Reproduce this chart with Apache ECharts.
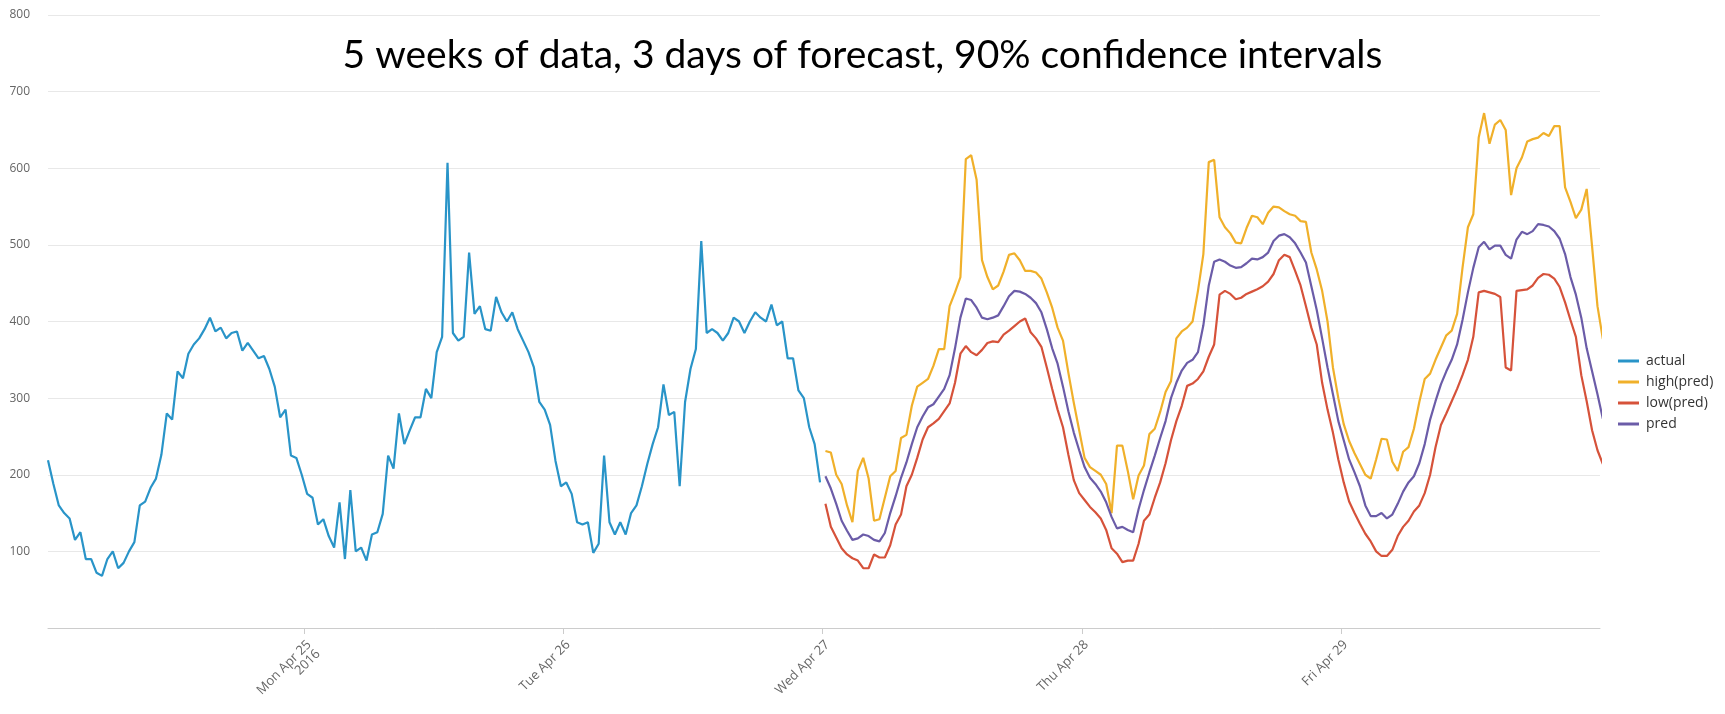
<!DOCTYPE html>
<html>
<head>
<meta charset="utf-8">
<title>forecast</title>
<script type="text/javascript" src="https://cdn.jsdelivr.net/npm/echarts@6.0.0/dist/echarts.min.js"></script>
<style type="text/css">
body {
    margin: 0;
    background: #fff;
}
#main {
    width: 1725px;
    height: 714px;
}
</style>
</head>
<body>
<div id="main"></div>

<script type="text/javascript">
// half-hour steps, actual starts Sun Apr 24 00:15, forecast starts Wed Apr 27 00:15
var stepMs = 30 * 60 * 1000;
var actualStart = new Date(2016, 3, 24, 0, 15).getTime();
var predStart = new Date(2016, 3, 27, 0, 15).getTime();
var axisMin = new Date(2016, 3, 24, 0, 15).getTime();
var axisMax = new Date(2016, 3, 29, 23, 59).getTime();

var seriesNames = ['actual', 'high(pred)', 'low(pred)', 'pred'];

var actual = [
    219, 188, 160, 150, 143, 115, 125, 90, 90, 72, 68, 90,
    100, 78, 85, 100, 112, 160, 165, 183, 195, 226, 280, 272,
    335, 326, 358, 370, 378, 390, 405, 387, 392, 378, 385, 387,
    362, 372, 362, 352, 355, 338, 315, 275, 285, 225, 222, 200,
    175, 170, 135, 142, 120, 105, 164, 90, 180, 100, 105, 88,
    122, 125, 149, 225, 208, 280, 240, 258, 275, 275, 312, 300,
    360, 380, 607, 385, 375, 380, 490, 410, 420, 390, 388, 432,
    412, 400, 412, 390, 375, 360, 340, 295, 285, 265, 218, 185,
    190, 175, 138, 135, 138, 98, 110, 225, 138, 122, 138, 122,
    150, 160, 185, 214, 240, 262, 318, 278, 282, 185, 295, 338,
    364, 505, 385, 390, 385, 375, 385, 405, 400, 385, 400, 412,
    405, 400, 422, 395, 400, 352, 352, 310, 300, 262, 240, 190
];

var highPred = [
    231, 229, 200, 188, 160, 138, 205, 222, 195, 140, 142, 170,
    198, 205, 248, 252, 290, 315, 320, 325, 342, 364, 364, 420,
    438, 458, 612, 617, 585, 480, 458, 442, 447, 465, 487, 489,
    480, 466, 466, 464, 456, 438, 418, 392, 375, 333, 294, 258,
    222, 210, 205, 200, 188, 150, 238, 238, 205, 168, 199, 212,
    253, 260, 282, 308, 322, 378, 387, 392, 400, 440, 488, 608,
    611, 536, 523, 515, 503, 502, 522, 538, 536, 527, 542, 550,
    549, 544, 540, 538, 531, 530, 490, 468, 440, 400, 340, 300,
    266, 244, 228, 214, 200, 195, 220, 247, 246, 217, 205, 230,
    236, 260, 295, 325, 332, 350, 366, 382, 388, 410, 470, 523,
    540, 640, 672, 632, 657, 663, 650, 565, 600, 614, 635, 638,
    640, 646, 642, 655, 655, 575, 556, 535, 546, 573, 498, 420,
    377
];

var lowPred = [
    162, 132, 118, 104, 96, 91, 88, 78, 78, 96, 92, 92,
    108, 135, 148, 185, 200, 222, 246, 262, 267, 273, 283, 293,
    320, 358, 368, 360, 356, 363, 372, 374, 373, 383, 388, 394,
    400, 404, 386, 378, 367, 340, 312, 285, 262, 226, 193, 176,
    167, 158, 151, 143, 128, 104, 97, 86, 88, 88, 110, 140,
    148, 170, 190, 215, 245, 270, 290, 316, 319, 325, 335, 354,
    370, 435, 440, 436, 429, 431, 436, 439, 442, 446, 452, 462,
    480, 487, 484, 466, 447, 420, 392, 370, 320, 285, 255, 220,
    190, 165, 150, 136, 123, 113, 100, 94, 94, 102, 120, 132,
    140, 152, 160, 176, 200, 236, 265, 280, 296, 312, 330, 350,
    380, 438, 440, 438, 436, 432, 340, 336, 440, 441, 442, 447,
    457, 462, 461, 456, 445, 425, 402, 380, 330, 296, 258, 232,
    214
];

var pred = [
    198, 182, 162, 140, 127, 115, 117, 122, 120, 115, 113, 124,
    150, 172, 196, 216, 240, 262, 276, 288, 292, 302, 312, 330,
    365, 405, 430, 428, 418, 405, 403, 405, 408, 420, 433, 440,
    439, 436, 431, 424, 412, 390, 365, 345, 315, 283, 255, 232,
    210, 196, 188, 178, 164, 145, 130, 132, 128, 125, 155, 180,
    203, 225, 248, 270, 300, 320, 336, 346, 350, 360, 395, 447,
    478, 481, 478, 473, 470, 471, 476, 482, 481, 484, 490, 505,
    512, 514, 510, 502, 490, 477, 446, 415, 378, 340, 305, 270,
    245, 220, 203, 185, 160, 146, 146, 150, 143, 148, 162, 178,
    190, 198, 215, 240, 272, 296, 318, 335, 350, 370, 402, 438,
    470, 497, 504, 494, 499, 499, 487, 482, 507, 517, 514, 518,
    527, 526, 524, 518, 508, 488, 458, 435, 405, 365, 335, 305,
    273
];

var colors = ['#2994c8', '#f0b02a', '#d6523a', '#6b5ca8'];
var dayNames = ['Sun', 'Mon', 'Tue', 'Wed', 'Thu', 'Fri', 'Sat'];
var monthNames = ['Jan', 'Feb', 'Mar', 'Apr', 'May', 'Jun', 'Jul', 'Aug', 'Sep', 'Oct', 'Nov', 'Dec'];

//把数组转成[时间,值]
function toPairs(start, values) {
    var out = [];
    for (var i = 0; i < values.length; i++) {
        out.push([start + i * stepMs, values[i]]);
    }
    return out;
}

//日期标签,只在零点显示,第一天带年份
function dayLabel(value) {
    var d = new Date(value);
    if (d.getHours() != 0 || d.getMinutes() != 0) {
        return '';
    }
    var txt = dayNames[d.getDay()] + ' ' + monthNames[d.getMonth()] + ' ' + d.getDate();
    if (value - axisMin < 24 * 3600 * 1000) {
        txt += '\n' + d.getFullYear();
    }
    return txt;
}

function lineSeries(name, start, values, color) {
    return {
        name: name,
        type: 'line',
        showSymbol: false,
        symbol: 'none',
        clip: true,
        data: toPairs(start, values),
        lineStyle: { width: 2.2, color: color },
        itemStyle: { color: color }
    };
}

var myChart = echarts.init(document.getElementById('main'));
var option = {
    animation: false,
    title: {
        text: '5 weeks of data, 3 days of forecast, 90% confidence intervals',
        left: 'center',
        top: 31,
        textStyle: {
            fontFamily: 'Lato',
            fontSize: 39,
            fontWeight: 'normal',
            color: '#000'
        }
    },
    legend: {
        data: seriesNames,
        orient: 'vertical',
        left: 1613,
        top: 349,
        icon: 'rect',
        itemWidth: 21,
        itemHeight: 3,
        itemGap: 7,
        textStyle: {
            fontFamily: 'Open Sans',
            fontSize: 14,
            color: '#333',
            padding: [0, 0, 0, 2]
        }
    },
    grid: {
        left: 48,
        right: 125,
        top: 15,
        bottom: 86,
        containLabel: false
    },
    xAxis: {
        type: 'time',
        min: axisMin,
        max: axisMax,
        minInterval: 24 * 3600 * 1000,
        maxInterval: 24 * 3600 * 1000,
        axisLine: { lineStyle: { color: '#ccc', width: 1 } },
        axisTick: { show: true, length: 6, lineStyle: { color: '#ccc' } },
        splitLine: { show: false },
        axisLabel: {
            rotate: 45,
            margin: 10,
            verticalAlign: 'top',
            fontFamily: 'Open Sans',
            fontSize: 13,
            color: '#666',
            hideOverlap: false,
            formatter: dayLabel
        }
    },
    yAxis: {
        type: 'value',
        min: 0,
        max: 800,
        interval: 100,
        axisLine: { show: false },
        axisTick: { show: false },
        splitLine: { lineStyle: { color: '#e8e8e8', width: 1 } },
        axisLabel: {
            showMinLabel: false,
            margin: 18,
            fontFamily: 'Open Sans',
            fontSize: 12,
            color: '#666'
        }
    },
    series: [
        lineSeries('actual', actualStart, actual, colors[0]),
        lineSeries('high(pred)', predStart, highPred, colors[1]),
        lineSeries('low(pred)', predStart, lowPred, colors[2]),
        lineSeries('pred', predStart, pred, colors[3])
    ]
};
myChart.setOption(option);
</script>
</body>
</html>
